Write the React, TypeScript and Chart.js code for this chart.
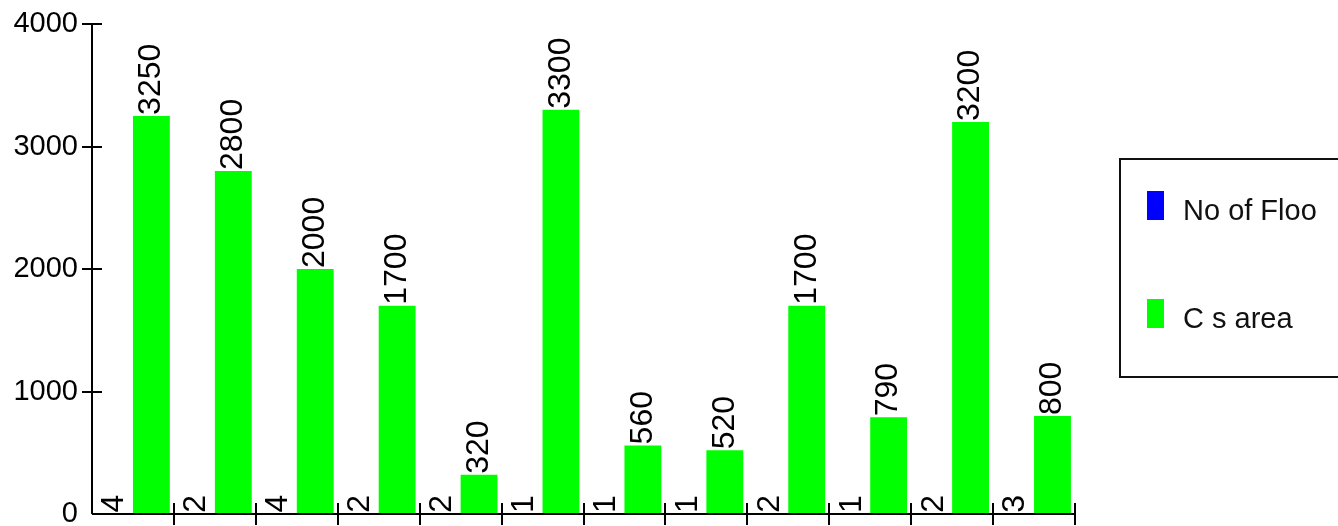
import React, { useEffect, useRef } from "react";
import { Chart, registerables } from "chart.js";

Chart.register(...registerables);

const categories = ["1", "2", "3", "4", "5", "6", "7", "8", "9", "10", "11", "12"];
const floorValues = [4, 2, 4, 2, 2, 1, 1, 1, 2, 1, 2, 3];
const areaValues = [3250, 2800, 2000, 1700, 320, 3300, 560, 520, 1700, 790, 3200, 800];
const seriesNames = ["No of Floo", "C s area"];
const seriesColors = ["#0000ff", "#00ff00"];
const yMin = 0;
const yMax = 4000;
const yStep = 1000;

const FONT = "'Liberation Sans', Arial, sans-serif";

const axesPlugin = {
  id: "axesPlugin",
  afterDatasetsDraw(chart: any) {
    const { ctx, chartArea } = chart;
    const xs = chart.scales.x;
    const ys = chart.scales.y;
    ctx.save();
    ctx.strokeStyle = "#000";
    ctx.lineWidth = 2;
    ctx.beginPath();
    // y axis line
    ctx.moveTo(chartArea.left, chartArea.top);
    ctx.lineTo(chartArea.left, chartArea.bottom);
    // x axis line
    ctx.moveTo(chartArea.left, chartArea.bottom);
    ctx.lineTo(chartArea.right, chartArea.bottom);
    // y ticks crossing the axis
    ys.ticks.forEach((t: any) => {
      if (t.value === 0) return;
      const y = Math.round(ys.getPixelForValue(t.value));
      ctx.moveTo(chartArea.left - 10, y);
      ctx.lineTo(chartArea.left + 10, y);
    });
    // x ticks at category boundaries
    for (let i = 1; i <= categories.length; i++) {
      const x = Math.round(xs.getPixelForValue(i - 0.5));
      ctx.moveTo(x, chartArea.bottom - 11);
      ctx.lineTo(x, chartArea.bottom + 11);
    }
    ctx.stroke();
    ctx.restore();
  },
};

const valueLabelsPlugin = {
  id: "valueLabels",
  afterDatasetsDraw(chart: any) {
    const ctx = chart.ctx;
    ctx.save();
    ctx.font = `32px ${FONT}`;
    ctx.fillStyle = "#000";
    ctx.textAlign = "left";
    ctx.textBaseline = "middle";
    chart.data.datasets.forEach((ds: any, di: number) => {
      const meta = chart.getDatasetMeta(di);
      meta.data.forEach((bar: any, i: number) => {
        const { x, y } = bar.getProps(["x", "y"], true);
        ctx.save();
        ctx.translate(x, y - 1);
        ctx.rotate(-Math.PI / 2);
        ctx.fillText(String(ds.data[i]), 0, 0);
        ctx.restore();
      });
    });
    ctx.restore();
  },
};

const boxLegendPlugin = {
  id: "boxLegend",
  afterDraw(chart: any) {
    const ctx = chart.ctx;
    ctx.save();
    ctx.strokeStyle = "#111";
    ctx.lineWidth = 2;
    ctx.strokeRect(1120, 159, 260, 218);
    ctx.font = `29px ${FONT}`;
    ctx.textAlign = "left";
    ctx.textBaseline = "alphabetic";
    chart.data.datasets.forEach((ds: any, i: number) => {
      const baseY = 220 + i * 108;
      ctx.fillStyle = ds.backgroundColor;
      ctx.fillRect(1147, baseY - 29, 17, 29);
      ctx.fillStyle = "#111";
      ctx.fillText(ds.label, 1183, baseY);
    });
    ctx.restore();
  },
};

export default function App() {
  const canvasRef = useRef<HTMLCanvasElement | null>(null);

  useEffect(() => {
    if (!canvasRef.current) return;
    const chart = new Chart(canvasRef.current, {
      type: "bar",
      data: {
        labels: categories,
        datasets: [
          {
            label: seriesNames[0],
            data: floorValues,
            backgroundColor: seriesColors[0],
            borderWidth: 0,
            categoryPercentage: 0.9,
            barPercentage: 1.0,
          },
          {
            label: seriesNames[1],
            data: areaValues,
            backgroundColor: seriesColors[1],
            borderWidth: 0,
            categoryPercentage: 0.9,
            barPercentage: 1.0,
          },
        ],
      },
      options: {
        responsive: false,
        animation: false,
        devicePixelRatio: 1,
        layout: { padding: { top: 24, right: 263, left: 0, bottom: 0 } },
        plugins: {
          legend: { display: false },
          tooltip: { enabled: false },
          title: { display: false },
        },
        scales: {
          x: {
            ticks: { display: false },
            grid: { display: false },
            border: { display: false },
            afterFit: (scale: any) => {
              scale.height = 12;
            },
          },
          y: {
            min: yMin,
            max: yMax,
            ticks: {
              stepSize: yStep,
              color: "#000",
              padding: 4,
              font: { family: FONT, size: 29 },
              callback: (v: any) => String(v),
            },
            grid: {
              display: true,
              drawOnChartArea: false,
              drawTicks: true,
              tickLength: 10,
              color: "rgba(0,0,0,0)",
            },
            border: { display: false },
            afterFit: (scale: any) => {
              scale.width = 92;
              scale.paddingTop = 0;
              scale.paddingBottom = 0;
            },
          },
        },
      },
      plugins: [axesPlugin, valueLabelsPlugin, boxLegendPlugin],
    } as any);
    return () => chart.destroy();
  }, []);

  return (
    <div style={{ position: "absolute", left: 0, top: 0, width: 1338, height: 526, background: "#fff" }}>
      <canvas ref={canvasRef} width={1338} height={526} style={{ display: "block" }} />
    </div>
  );
}
